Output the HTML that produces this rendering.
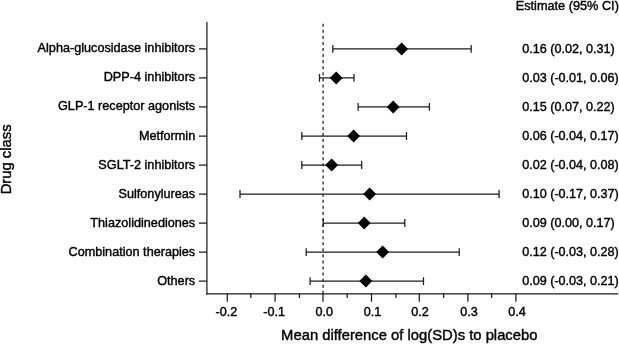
<!DOCTYPE html>
<html><head><meta charset="utf-8"><title>Forest plot</title>
<style>
html,body{margin:0;padding:0;background:#fff;}
body{width:619px;height:344px;overflow:hidden;}
svg{display:block;}
text{font-family:"Liberation Sans",Arial,Helvetica,sans-serif;fill:#000;stroke:#000;stroke-width:0.4px;}
.t{font-size:12.66px;}
.a{font-size:14.8px;}
.h{font-size:12.72px;}
.e{font-size:12.6px;}
.l{stroke:#1c1c1c;stroke-width:1.25;fill:none;}
</style></head><body>
<svg width="619" height="344" viewBox="0 0 619 344">
<rect width="619" height="344" fill="#fff"/>

<path class="l" d="M206.9 21.9V294.5"/>
<path class="l" d="M206.3 293.75H618.2" stroke-width="1.6"/>
<path class="l" d="M323.1 23.7V293.55" stroke-dasharray="3.05 3.02"/>
<path class="l" d="M198.9 48.9H206.9M198.9 77.9H206.9M198.9 106.9H206.9M198.9 136.0H206.9M198.9 165.0H206.9M198.9 194.0H206.9M198.9 223.0H206.9M198.9 252.1H206.9M198.9 281.1H206.9"/>
<path class="l" d="M227.3 293.55v8.2M250.8 293.55v4.4M275.1 293.55v8.2M299.4 293.55v4.4M323.0 293.55v8.2M347.2 293.55v4.4M371.5 293.55v8.2M395.9 293.55v4.4M419.3 293.55v8.2M443.6 293.55v4.4M467.9 293.55v8.2M491.6 293.55v4.4M515.9 293.55v8.2"/>
<text class="e" x="226.3" y="316.1" text-anchor="middle">-0.2</text>
<text class="e" x="274.2" y="316.1" text-anchor="middle">-0.1</text>
<text class="e" x="324.2" y="316.1" text-anchor="middle">0.0</text>
<text class="e" x="372.6" y="316.1" text-anchor="middle">0.1</text>
<text class="e" x="420.0" y="316.1" text-anchor="middle">0.2</text>
<text class="e" x="468.9" y="316.1" text-anchor="middle">0.3</text>
<text class="e" x="516.9" y="316.1" text-anchor="middle">0.4</text>
<text class="t" x="195.2" y="52.4" text-anchor="end">Alpha-glucosidase inhibitors</text>
<text class="e" x="522.2" y="53.2">0.16 (0.02, 0.31)</text>
<path class="l" d="M332.8 48.9H471.2M332.8 45.0v7.8M471.2 45.0v7.8"/>
<path d="M395.2 48.9L401.6 42.4L408.1 48.9L401.6 55.4Z" fill="#000"/>
<text class="t" x="195.2" y="81.4" text-anchor="end">DPP-4 inhibitors</text>
<text class="e" x="522.2" y="82.2">0.03 (-0.01, 0.06)</text>
<path class="l" d="M319.5 77.9H354.0M319.5 74.0v7.8M354.0 74.0v7.8"/>
<path d="M329.8 77.9L336.2 71.5L342.6 77.9L336.2 84.4Z" fill="#000"/>
<text class="t" x="195.2" y="110.4" text-anchor="end">GLP-1 receptor agonists</text>
<text class="e" x="522.2" y="111.2">0.15 (0.07, 0.22)</text>
<path class="l" d="M358.1 106.9H429.4M358.1 103.0v7.8M429.4 103.0v7.8"/>
<path d="M386.8 106.9L393.2 100.5L399.6 106.9L393.2 113.4Z" fill="#000"/>
<text class="t" x="195.2" y="139.5" text-anchor="end">Metformin</text>
<text class="e" x="522.2" y="140.3">0.06 (-0.04, 0.17)</text>
<path class="l" d="M301.8 136.0H406.5M301.8 132.1v7.8M406.5 132.1v7.8"/>
<path d="M347.2 136.0L353.6 129.5L360.1 136.0L353.6 142.4Z" fill="#000"/>
<text class="t" x="195.2" y="168.5" text-anchor="end">SGLT-2 inhibitors</text>
<text class="e" x="522.2" y="169.3">0.02 (-0.04, 0.08)</text>
<path class="l" d="M301.8 165.0H361.7M301.8 161.1v7.8M361.7 161.1v7.8"/>
<path d="M325.2 165.0L331.6 158.6L338.1 165.0L331.6 171.4Z" fill="#000"/>
<text class="t" x="195.2" y="197.5" text-anchor="end">Sulfonylureas</text>
<text class="e" x="522.2" y="198.3">0.10 (-0.17, 0.37)</text>
<path class="l" d="M240.0 194.0H499.1M240.0 190.1v7.8M499.1 190.1v7.8"/>
<path d="M363.2 194.0L369.6 187.6L376.1 194.0L369.6 200.5Z" fill="#000"/>
<text class="t" x="195.2" y="226.5" text-anchor="end">Thiazolidinediones</text>
<text class="e" x="522.2" y="227.3">0.09 (0.00, 0.17)</text>
<path class="l" d="M323.2 223.0H404.8M323.2 219.1v7.8M404.8 219.1v7.8"/>
<path d="M357.8 223.0L364.2 216.6L370.6 223.0L364.2 229.5Z" fill="#000"/>
<text class="t" x="195.2" y="255.6" text-anchor="end">Combination therapies</text>
<text class="e" x="522.2" y="256.4">0.12 (-0.03, 0.28)</text>
<path class="l" d="M306.2 252.1H459.2M306.2 248.2v7.8M459.2 248.2v7.8"/>
<path d="M376.2 252.1L382.7 245.6L389.1 252.1L382.7 258.5Z" fill="#000"/>
<text class="t" x="195.2" y="284.6" text-anchor="end">Others</text>
<text class="e" x="522.2" y="285.4">0.09 (-0.03, 0.21)</text>
<path class="l" d="M310.1 281.1H423.5M310.1 277.2v7.8M423.5 277.2v7.8"/>
<path d="M359.4 281.1L365.9 274.6L372.3 281.1L365.9 287.5Z" fill="#000"/>
<text class="h" x="515.7" y="9.5">Estimate (95% CI)</text>
<text class="a" x="409.3" y="340.3" text-anchor="middle">Mean difference of log(SD)s to placebo</text>
<text class="a" transform="translate(10.9 159.4) rotate(-90)" text-anchor="middle">Drug class</text>
</svg></body></html>
